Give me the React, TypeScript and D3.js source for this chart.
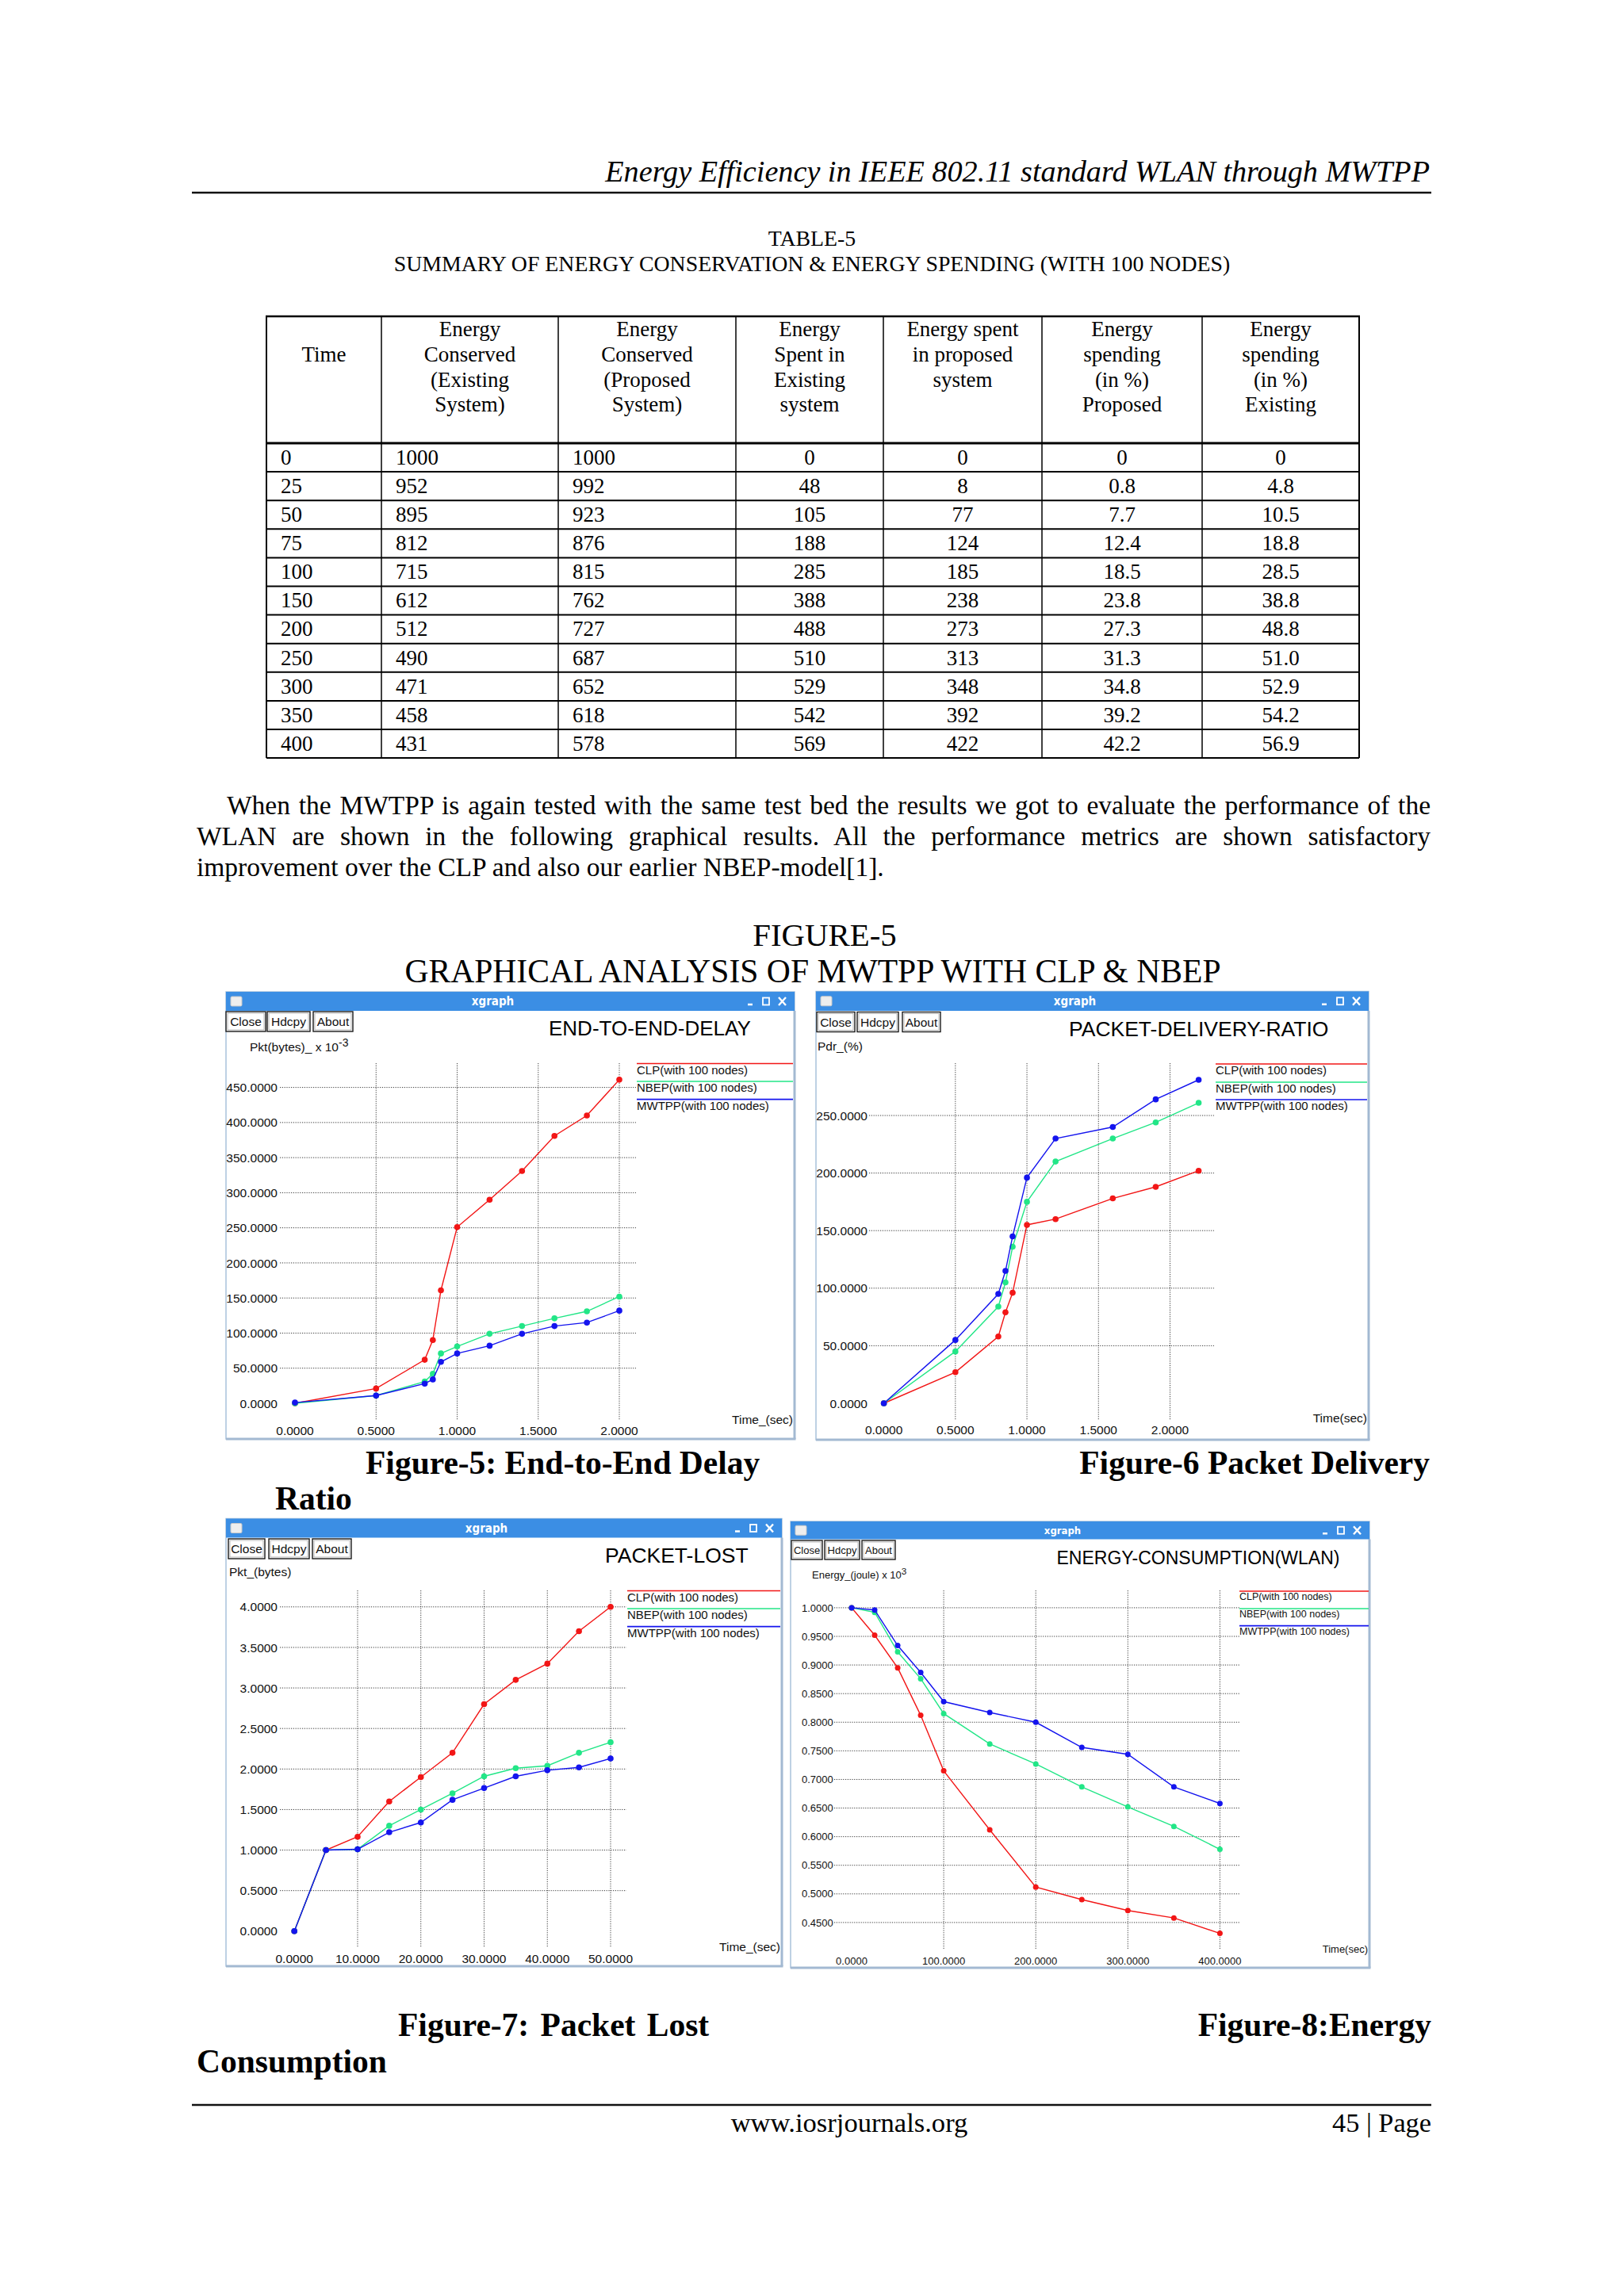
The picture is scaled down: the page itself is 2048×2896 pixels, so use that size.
import * as d3 from "d3";
import { useLayoutEffect, useRef } from "react";

const W = 2048;
const H = 2896;
const SERIF = "'Liberation Serif', 'Times New Roman', serif";
const SANS = "'Liberation Sans', Arial, Helvetica, sans-serif";
const BAR_FONT = "'DejaVu Sans Condensed', 'DejaVu Sans', sans-serif";

// ---- Table 5 data ----
const tableTime = ["0", "25", "50", "75", "100", "150", "200", "250", "300", "350", "400"];
const consExisting = [1000, 952, 895, 812, 715, 612, 512, 490, 471, 458, 431];
const consProposed = [1000, 992, 923, 876, 815, 762, 727, 687, 652, 618, 578];
const spentExisting = ["0", "48", "105", "188", "285", "388", "488", "510", "529", "542", "569"];
const spentProposed = ["0", "8", "77", "124", "185", "238", "273", "313", "348", "392", "422"];
const pctProposed = ["0", "0.8", "7.7", "12.4", "18.5", "23.8", "27.3", "31.3", "34.8", "39.2", "42.2"];
const pctExisting = ["0", "4.8", "10.5", "18.8", "28.5", "38.8", "48.8", "51.0", "52.9", "54.2", "56.9"];

const tableHeaders = [
  ["", "Time"],
  ["Energy", "Conserved", "(Existing", "System)"],
  ["Energy", "Conserved", "(Proposed", "System)"],
  ["Energy", "Spent in", "Existing", "system"],
  ["Energy spent", "in proposed", "system"],
  ["Energy", "spending", "(in %)", "Proposed"],
  ["Energy", "spending", "(in %)", "Existing"],
];

// ---- Figure 5: end-to-end delay ----
const delayTime = [0, 0.5, 0.8, 0.85, 0.9, 1.0, 1.2, 1.4, 1.6, 1.8, 2.0];
const delayCLP = [0, 21, 62, 90, 161, 251, 290, 331, 381, 410, 461];
const delayNBEP = [0, 11, 31, 42, 71, 81, 99, 110, 121, 131, 152];
const delayMWTPP = [1, 11, 28, 34, 59, 71, 82, 99, 110, 115, 132];
const delayXTicks = [0, 0.5, 1.0, 1.5, 2.0];
const delayYTicks = [0, 50, 100, 150, 200, 250, 300, 350, 400, 450];

// ---- Figure 6: packet delivery ratio ----
const pdrTime = [0, 0.5, 0.8, 0.85, 0.9, 1.0, 1.2, 1.6, 1.9, 2.2];
const pdrCLP = [0, 27, 58, 79, 96, 155, 160, 178, 188, 202];
const pdrNBEP = [0, 45, 84, 105, 136, 175, 210, 230, 244, 261];
const pdrMWTPP = [0, 55, 95, 115, 145, 196, 230, 240, 264, 281];
const pdrXTicks = [0, 0.5, 1.0, 1.5, 2.0];
const pdrYTicks = [0, 50, 100, 150, 200, 250];

// ---- Figure 7: packet lost ----
const lostTime = [0, 5, 10, 15, 20, 25, 30, 35, 40, 45, 50];
const lostCLP = [0, 1.0, 1.165, 1.6, 1.9, 2.2, 2.8, 3.1, 3.3, 3.7, 4.0];
const lostNBEP = [0, 1.0, 1.01, 1.3, 1.5, 1.7, 1.91, 2.01, 2.04, 2.2, 2.33];
const lostMWTPP = [0, 1.0, 1.01, 1.22, 1.34, 1.62, 1.765, 1.91, 1.985, 2.02, 2.13];
const lostXTicks = [0, 10, 20, 30, 40, 50];
const lostYTicks = [0, 0.5, 1.0, 1.5, 2.0, 2.5, 3.0, 3.5, 4.0];

// ---- Figure 8: energy consumption ----
const energyTime = [0, 25, 50, 75, 100, 150, 200, 250, 300, 350, 400];
const energyCLP = consExisting.map((v) => v / 1000);
const energyNBEP = consProposed.map((v) => v / 1000);
const energyMWTPP = [1.0, 0.996, 0.934, 0.887, 0.836, 0.817, 0.8, 0.756, 0.744, 0.687, 0.658];
const energyXTicks = [0, 100, 200, 300, 400];
const energyYTicks = [0.45, 0.5, 0.55, 0.6, 0.65, 0.7, 0.75, 0.8, 0.85, 0.9, 0.95, 1.0];

const seriesNames = ["CLP(with 100 nodes)", "NBEP(with 100 nodes)", "MWTPP(with 100 nodes)"];
const seriesColors = ["#f21616", "#22e687", "#1414ee"];

const fmt4 = d3.format(".4f");

function JustifiedLine({ x, y, width, text, size }: any) {
  const ref = useRef<SVGTextElement>(null);
  useLayoutEffect(() => {
    const el = ref.current;
    if (!el) return;
    el.setAttribute("word-spacing", "0");
    const natural = el.getComputedTextLength();
    const gaps = text.split(" ").length - 1;
    if (gaps > 0) el.setAttribute("word-spacing", String((width - natural) / gaps));
  }, [text, width]);
  return (
    <text ref={ref} x={x} y={y} fontSize={size} fontFamily={SERIF}>
      {text}
    </text>
  );
}

function XgraphWindow({ cfg, xs, ys, xTicks, yTicks }: any) {
  const x = d3.scaleLinear().domain(cfg.xDomain).range(cfg.xRange);
  const y = d3.scaleLinear().domain(cfg.yDomain).range(cfg.yRange);
  const line = d3
    .line<number>()
    .x((_, i) => x(xs[i]))
    .y((d) => y(d));
  const barMid = cfg.top + cfg.barH / 2;
  const btnLabels = ["Close", "Hdcpy", "About"];

  return (
    <g>
      {/* window frame */}
      <rect x={cfg.left} y={cfg.top} width={cfg.right - cfg.left} height={cfg.bottom - cfg.top} fill="#fff" stroke="#a9c2dc" strokeWidth={1.5} />
      <line x1={cfg.right} x2={cfg.right} y1={cfg.top + cfg.barH} y2={cfg.bottom} stroke="#a3b9d2" strokeWidth={3} />
      <line x1={cfg.left} x2={cfg.right + 1.5} y1={cfg.bottom} y2={cfg.bottom} stroke="#a3b9d2" strokeWidth={3} />
      <rect x={cfg.left} y={cfg.top} width={cfg.right - cfg.left} height={cfg.barH} fill="#3b8ee4" />
      {/* title bar widgets */}
      <rect x={cfg.left + 6} y={barMid - 6} width={14} height={12} rx={1.5} fill="#eeeeee" stroke="#c8c8c8" strokeWidth={1} />
      <text x={(cfg.left + cfg.right) / 2 - 22} y={barMid + 5} textAnchor="middle" fill="#fff" fontFamily={BAR_FONT} fontWeight="bold" fontSize={cfg.barFont}>
        xgraph
      </text>
      <line x1={cfg.right - 59} x2={cfg.right - 53} y1={barMid + 4} y2={barMid + 4} stroke="#fff" strokeWidth={2.5} />
      <rect x={cfg.right - 40} y={barMid - 4.5} width={8} height={9} fill="none" stroke="#fff" strokeWidth={1.8} />
      <path d={`M${cfg.right - 20},${barMid - 5} l9,10 M${cfg.right - 11},${barMid - 5} l-9,10`} stroke="#fff" strokeWidth={2.4} />
      {/* buttons */}
      {cfg.buttons.map((b: number[], i: number) => (
        <g key={i}>
          <rect x={b[0]} y={cfg.btnY} width={b[1] - b[0]} height={cfg.btnH} fill="#fff" stroke="#1a1a1a" strokeWidth={1.4} />
          <rect x={b[0] + 2} y={cfg.btnY + 2} width={b[1] - b[0] - 4} height={cfg.btnH - 4} fill="none" stroke="#9a9a9a" strokeWidth={0.7} />
          <text x={(b[0] + b[1]) / 2} y={cfg.btnY + cfg.btnH / 2 + cfg.btnFont * 0.36} textAnchor="middle" fontFamily={SANS} fontSize={cfg.btnFont} fill="#111">
            {btnLabels[i]}
          </text>
        </g>
      ))}
      {/* chart title + y label */}
      <text x={cfg.titleX} y={cfg.titleY} fontFamily={SANS} fontSize={cfg.titleSize} fill="#000">
        {cfg.title}
      </text>
      <text x={cfg.ylabX} y={cfg.ylabY} fontFamily={SANS} fontSize={cfg.tickSize} fill="#111">
        {cfg.ylab}
        {cfg.ylabSup && (
          <tspan dy={-cfg.tickSize * 0.4} fontSize={cfg.tickSize * 0.9}>
            {cfg.ylabSup}
          </tspan>
        )}
      </text>
      {/* grid, no line on the zero axis */}
      {xTicks.filter((t: number) => t !== 0).map((t: number) => (
        <line key={"vx" + t} x1={x(t)} x2={x(t)} y1={cfg.vGrid[0]} y2={cfg.vGrid[1]} stroke="#3a3a3a" strokeWidth={1} strokeDasharray="1.2,1.6" />
      ))}
      {yTicks.filter((t: number) => t !== 0).map((t: number) => (
        <line key={"hy" + t} x1={cfg.hGrid[0]} x2={cfg.hGrid[1]} y1={y(t)} y2={y(t)} stroke="#3a3a3a" strokeWidth={1} strokeDasharray="1.2,1.6" />
      ))}
      {/* tick labels */}
      {yTicks.map((t: number) => (
        <text key={"yl" + t} x={cfg.yLabX} y={y(t) + cfg.tickSize * 0.36} textAnchor="end" fontFamily={SANS} fontSize={cfg.tickSize} fill="#111">
          {fmt4(t)}
        </text>
      ))}
      {xTicks.map((t: number) => (
        <text key={"xl" + t} x={x(t)} y={cfg.xLabY} textAnchor="middle" fontFamily={SANS} fontSize={cfg.tickSize} fill="#111">
          {fmt4(t)}
        </text>
      ))}
      <text x={cfg.right - 2} y={cfg.xNameY} textAnchor="end" fontFamily={SANS} fontSize={cfg.tickSize} fill="#111">
        {cfg.xName}
      </text>
      {/* legend */}
      {seriesNames.map((n, i) => (
        <g key={n}>
          <line x1={cfg.legX1} x2={cfg.legX2} y1={cfg.legYs[i]} y2={cfg.legYs[i]} stroke={seriesColors[i]} strokeWidth={1.6} />
          <text x={cfg.legX1} y={cfg.legYs[i] + cfg.legSize * 0.88} fontFamily={SANS} fontSize={cfg.legSize} fill="#111">
            {n}
          </text>
        </g>
      ))}
      {/* series */}
      {ys.map((vals: number[], si: number) => (
        <g key={si}>
          <path d={line(vals) || ""} fill="none" stroke={seriesColors[si]} strokeWidth={1.4} />
          {vals.map((v, i) => (
            <circle key={i} cx={x(xs[i])} cy={y(v)} r={cfg.r} fill={seriesColors[si]} />
          ))}
        </g>
      ))}
    </g>
  );
}

const cfgDelay = {
  left: 285, right: 1002, top: 1251, bottom: 1815, barH: 24, barFont: 15,
  btnY: 1276, btnH: 25, btnFont: 15.5, buttons: [[285, 335], [337, 391], [395, 445]],
  title: "END-TO-END-DELAY", titleX: 692, titleY: 1306, titleSize: 26,
  ylab: "Pkt(bytes)_ x 10", ylabSup: "-3", ylabX: 315, ylabY: 1326,
  xDomain: [0, 2], xRange: [372, 781], yDomain: [0, 450], yRange: [1770, 1371.6],
  hGrid: [353, 802], vGrid: [1341, 1791],
  yLabX: 350, xLabY: 1809.5, tickSize: 15.5, xName: "Time_(sec)", xNameY: 1796,
  legX1: 803, legX2: 1000, legYs: [1341.5, 1364, 1386.6], legSize: 15, r: 3.8,
};

const cfgPdr = {
  left: 1029, right: 1726, top: 1250.5, bottom: 1816, barH: 24.5, barFont: 15,
  btnY: 1276.5, btnH: 25, btnFont: 15.5, buttons: [[1030, 1078], [1081, 1133], [1138, 1186]],
  title: "PACKET-DELIVERY-RATIO", titleX: 1348, titleY: 1307, titleSize: 26.5,
  ylab: "Pdr_(%)", ylabSup: "", ylabX: 1031, ylabY: 1324.6,
  xDomain: [0, 2], xRange: [1114.6, 1475.5], yDomain: [0, 250], yRange: [1770, 1407],
  hGrid: [1096, 1531], vGrid: [1341, 1791],
  yLabX: 1094, xLabY: 1809, tickSize: 15.5, xName: "Time(sec)", xNameY: 1794,
  legX1: 1533, legX2: 1724, legYs: [1342, 1365, 1387], legSize: 15, r: 3.8,
};

const cfgLost = {
  left: 285, right: 986, top: 1915.5, bottom: 2480, barH: 24, barFont: 15,
  btnY: 1941, btnH: 25, btnFont: 15.5, buttons: [[288, 334], [339, 390], [394, 443]],
  title: "PACKET-LOST", titleX: 763, titleY: 1971, titleSize: 26.5,
  ylab: "Pkt_(bytes)", ylabSup: "", ylabX: 289, ylabY: 1988,
  xDomain: [0, 50], xRange: [371.2, 770], yDomain: [0, 4], yRange: [2435.8, 2026.8],
  hGrid: [353, 790], vGrid: [2006, 2456],
  yLabX: 350, xLabY: 2475.7, tickSize: 15.5, xName: "Time_(sec)", xNameY: 2460.6,
  legX1: 791, legX2: 984, legYs: [2006.5, 2029, 2051.6], legSize: 15, r: 3.8,
};

const cfgEnergy = {
  left: 997, right: 1727, top: 1919, bottom: 2482, barH: 22.5, barFont: 13,
  btnY: 1943, btnH: 24, btnFont: 13, buttons: [[998, 1037], [1040, 1084], [1087, 1129]],
  title: "ENERGY-CONSUMPTION(WLAN)", titleX: 1332.5, titleY: 1973, titleSize: 23,
  ylab: "Energy_(joule) x 10", ylabSup: "3", ylabX: 1024, ylabY: 1991,
  xDomain: [0, 400], xRange: [1074, 1538.4], yDomain: [0.45, 1.0], yRange: [2424.9, 2027.9],
  hGrid: [1052, 1563], vGrid: [2006, 2459],
  yLabX: 1050.7, xLabY: 2477.8, tickSize: 13, xName: "Time(sec)", xNameY: 2462.6,
  legX1: 1563, legX2: 1726, legYs: [2007, 2029, 2050.6], legSize: 12.5, r: 3.5,
};

// table geometry
const colEdges = [336, 481, 704, 928, 1114, 1314, 1516, 1714];
const tableTop = 399;
const headBottom = 559;
const rowH = 36.1;

function Table() {
  const rows = tableTime.map((t, i) => [
    t, String(consExisting[i]), String(consProposed[i]), spentExisting[i], spentProposed[i], pctProposed[i], pctExisting[i],
  ]);
  const bottom = headBottom + rowH * rows.length;
  const lineBase = [424, 456, 487.5, 519];
  return (
    <g fontFamily={SERIF} fontSize={27} fill="#000">
      {tableHeaders.map((hd, c) => (
        <g key={c}>
          {hd.map((s, k) => (
            <text key={k} x={(colEdges[c] + colEdges[c + 1]) / 2} y={lineBase[k]} textAnchor="middle">
              {s}
            </text>
          ))}
        </g>
      ))}
      {rows.map((r, i) => {
        const by = headBottom + rowH * (i + 1) - 9.3;
        return (
          <g key={i}>
            {r.map((s, c) =>
              c < 3 ? (
                <text key={c} x={colEdges[c] + 18} y={by}>
                  {s}
                </text>
              ) : (
                <text key={c} x={(colEdges[c] + colEdges[c + 1]) / 2} y={by} textAnchor="middle">
                  {s}
                </text>
              ),
            )}
          </g>
        );
      })}
      {/* rules */}
      <line x1={colEdges[0] - 1} x2={colEdges[7] + 1} y1={tableTop} y2={tableTop} stroke="#000" strokeWidth={2.5} />
      <line x1={colEdges[0]} x2={colEdges[7]} y1={headBottom} y2={headBottom} stroke="#000" strokeWidth={3} />
      {rows.map((_, i) => (
        <line key={i} x1={colEdges[0]} x2={colEdges[7]} y1={headBottom + rowH * (i + 1)} y2={headBottom + rowH * (i + 1)} stroke="#000" strokeWidth={2} />
      ))}
      {colEdges.map((cx, i) => (
        <line key={"c" + i} x1={cx} x2={cx} y1={tableTop} y2={bottom} stroke="#000" strokeWidth={i === 0 || i === 7 ? 2 : 1.5} />
      ))}
    </g>
  );
}

export default function App() {
  return (
    <svg width={W} height={H} viewBox={`0 0 ${W} ${H}`} style={{ position: "absolute", left: 0, top: 0, background: "#fff" }}>
      <rect width={W} height={H} fill="#fff" />
      {/* running header */}
      <text x={1803} y={229} textAnchor="end" fontFamily={SERIF} fontStyle="italic" fontSize={38.2}>
        Energy Efficiency in IEEE 802.11 standard WLAN through MWTPP
      </text>
      <line x1={242} x2={1805} y1={243} y2={243} stroke="#111" strokeWidth={2.5} />

      <text x={1024} y={310} textAnchor="middle" fontFamily={SERIF} fontSize={27.8}>
        TABLE-5
      </text>
      <text x={1024} y={342} textAnchor="middle" fontFamily={SERIF} fontSize={27.8}>
        SUMMARY OF ENERGY CONSERVATION &amp; ENERGY SPENDING (WITH 100 NODES)
      </text>
      <Table />

      {/* paragraph */}
      <JustifiedLine x={286} y={1027} width={1518} size={33.5} text="When the MWTPP is again tested with the same test bed the results we got to evaluate the performance of the" />
      <JustifiedLine x={248} y={1066} width={1556} size={33.5} text="WLAN are shown in the following graphical results. All the performance metrics are shown satisfactory" />
      <text x={248} y={1105} fontFamily={SERIF} fontSize={33.5}>
        improvement over the CLP and also our earlier NBEP-model[1].
      </text>

      <text x={1040} y={1193} textAnchor="middle" fontFamily={SERIF} fontSize={40.8}>
        FIGURE-5
      </text>
      <text x={1025} y={1239} textAnchor="middle" fontFamily={SERIF} fontSize={41.6}>
        GRAPHICAL ANALYSIS OF MWTPP WITH CLP &amp; NBEP
      </text>

      <XgraphWindow cfg={cfgDelay} xs={delayTime} ys={[delayCLP, delayNBEP, delayMWTPP]} xTicks={delayXTicks} yTicks={delayYTicks} />
      <XgraphWindow cfg={cfgPdr} xs={pdrTime} ys={[pdrCLP, pdrNBEP, pdrMWTPP]} xTicks={pdrXTicks} yTicks={pdrYTicks} />

      <g fontFamily={SERIF} fontWeight="bold" fontSize={41.5}>
        <text x={461} y={1859}>Figure-5: End-to-End Delay</text>
        <text x={1803} y={1859} textAnchor="end">Figure-6 Packet Delivery</text>
        <text x={347} y={1904}>Ratio</text>
      </g>

      <XgraphWindow cfg={cfgLost} xs={lostTime} ys={[lostCLP, lostNBEP, lostMWTPP]} xTicks={lostXTicks} yTicks={lostYTicks} />
      <XgraphWindow cfg={cfgEnergy} xs={energyTime} ys={[energyCLP, energyNBEP, energyMWTPP]} xTicks={energyXTicks} yTicks={energyYTicks} />

      <g fontFamily={SERIF} fontWeight="bold" fontSize={41.5}>
        <text x={502} y={2568} wordSpacing={4}>Figure-7: Packet Lost</text>
        <text x={1805} y={2568} textAnchor="end">Figure-8:Energy</text>
        <text x={248} y={2614}>Consumption</text>
      </g>

      {/* footer */}
      <line x1={242} x2={1805} y1={2655} y2={2655} stroke="#111" strokeWidth={2.5} />
      <text x={1071} y={2689} textAnchor="middle" fontFamily={SERIF} fontSize={34.6}>
        www.iosrjournals.org
      </text>
      <text x={1805} y={2689} textAnchor="end" fontFamily={SERIF} fontSize={34.3}>
        45 | Page
      </text>
    </svg>
  );
}
